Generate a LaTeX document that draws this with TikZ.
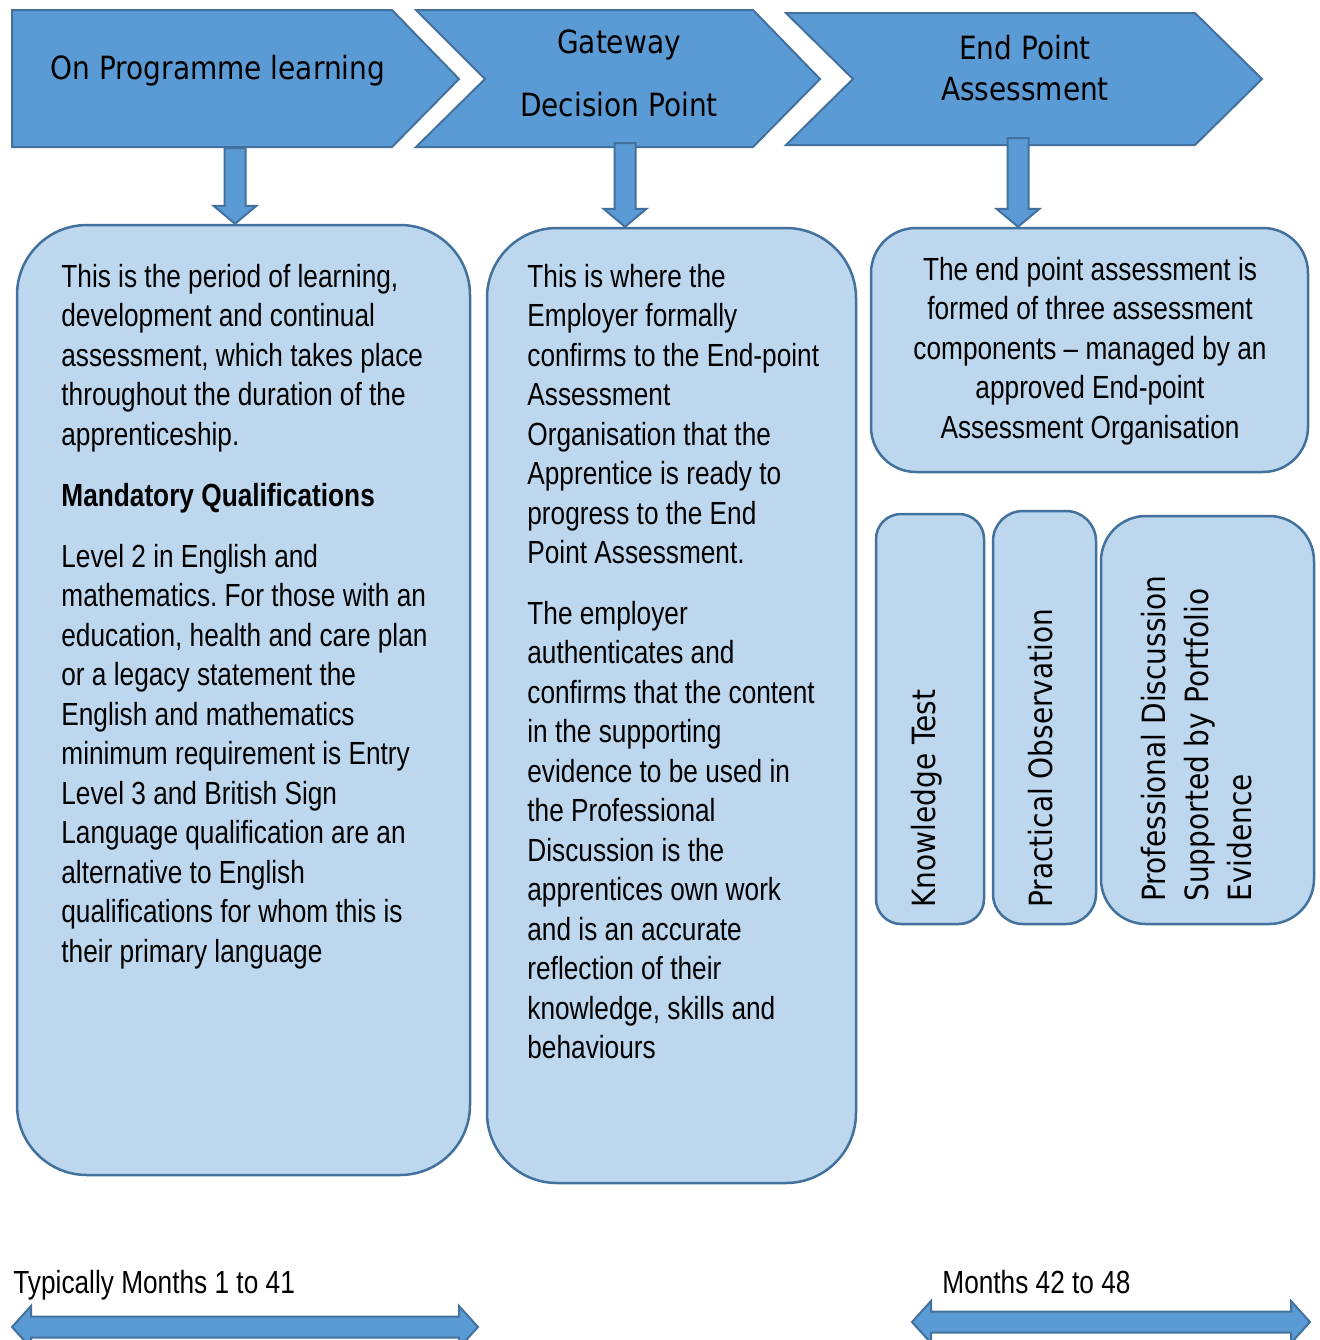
\documentclass[tikz,border=0pt]{standalone}
\usepackage{fontspec}
\setmainfont[FakeStretch=0.82]{Liberation Sans}
\newfontfamily\headfont[FakeStretch=0.875]{DejaVu Sans}
\usepackage{tikz}
\usetikzlibrary{calc}
\frenchspacing
\definecolor{stage-fill}{HTML}{5B9BD5}
\definecolor{stage-edge}{HTML}{41719C}
\definecolor{box-fill}{HTML}{BDD7EE}
\newcommand{\bodysize}{\fontsize{16}{19.75}\selectfont}
\newcommand{\headsize}{\headfont\fontsize{16}{21}\selectfont}
\newcommand{\firstline}{\rule{0pt}{13pt}}
\tikzset{
    stage/.style = {fill=stage-fill, draw=stage-edge, line width=1pt, line join=miter},
    rounded-box/.style = {draw=stage-edge, fill=box-fill, line width=1.25pt, rectangle, rounded corners=#1},
    body-text/.style = {inner sep=0pt, align=left, anchor=north west, font=\bodysize},
    head-text/.style = {inner sep=0pt, align=center, anchor=north, font=\headsize},
    side-text/.style = {inner sep=0pt, rotate=90, font=\headsize},
    block-down/.style = {stage, to path={let \p1=(\tikztostart), \p2=(\tikztotarget) in
        (\x1-5.25pt,\y1) -- (\x1+5.25pt,\y1) -- (\x1+5.25pt,\y2+9pt) -- (\x1+10.75pt,\y2+9pt)
        -- (\x1,\y2) -- (\x1-10.75pt,\y2+9pt) -- (\x1-5.25pt,\y2+9pt) -- cycle}},
    block-both/.style = {stage, to path={let \p1=(\tikztostart), \p2=(\tikztotarget) in
        (\p1) -- (\x1+9.5pt,\y1+10.5pt) -- (\x1+9.5pt,\y1+5.25pt) -- (\x2-9.5pt,\y1+5.25pt)
        -- (\x2-9.5pt,\y1+10.5pt) -- (\p2) -- (\x2-9.5pt,\y1-10.5pt) -- (\x2-9.5pt,\y1-5.25pt)
        -- (\x1+9.5pt,\y1-5.25pt) -- (\x1+9.5pt,\y1-10.5pt) -- cycle}},
}

\begin{document}
\begin{tikzpicture}[x=0.5pt, y=-0.5pt]
\useasboundingbox (0,0) rectangle (1319,1340);

\draw[stage] (12,10) -- (392,10) -- (459,79) -- (392,147) -- (12,147) -- cycle;
\draw[stage] (416,10) -- (753,10) -- (820,79) -- (753,147) -- (416,147) -- (485,79) -- cycle;
\draw[stage] (786,13) -- (1195,13) -- (1262,79) -- (1195,145) -- (786,145) -- (853,79) -- cycle;

\node[head-text] (stage-learning) at (218,53) {\firstline On Programme learning};
\node[head-text] (stage-gateway) at (619,27) {\firstline Gateway\\[10.5pt]Decision Point};
\node[head-text, font=\headfont\fontsize{16}{20.5}\selectfont] (stage-epa) at (1025,33) {\firstline End Point\\Assessment};

\node[rounded-box=35pt, minimum width=226.5pt, minimum height=475pt] (box-learning) at (243.5,700) {};
\node[rounded-box=35pt, minimum width=184.5pt, minimum height=477.5pt] (box-gateway) at (671.5,705.5) {};
\node[rounded-box=22.5pt, minimum width=218.5pt, minimum height=122pt] (box-epa) at (1089.5,350) {};
\node[rounded-box=12.5pt, minimum width=54pt, minimum height=205pt] (box-knowledge) at (930,719) {};
\node[rounded-box=15pt, minimum width=51.5pt, minimum height=206.5pt] (box-practical) at (1044.5,717.5) {};
\node[rounded-box=22.5pt, minimum width=106.5pt, minimum height=204pt] (box-discussion) at (1207.5,720) {};

\coordinate (drop-1) at (235,148);
\coordinate (drop-2) at (625,143);
\coordinate (drop-3) at (1018,138);
\path[block-down] (drop-1) to (drop-1 |- box-learning.north);
\path[block-down] (drop-2) to (drop-2 |- box-gateway.north);
\path[block-down] (drop-3) to (drop-3 |- box-epa.north);

\node[body-text] (text-learning) at (61,261) {\firstline This is the period of learning,\\
development and continual\\
assessment, which takes place\\
throughout the duration of the\\
apprenticeship.\\[11pt]
\textbf{Mandatory Qualifications}\\[10.5pt]
Level 2 in English and\\
mathematics. For those with an\\
education, health and care plan\\
or a legacy statement the\\
English and mathematics\\
minimum requirement is Entry\\
Level 3 and British Sign\\
Language qualification are an\\
alternative to English\\
qualifications for whom this is\\
their primary language};

\node[body-text] (text-gateway) at (527,261) {\firstline This is where the\\
Employer formally\\
confirms to the End-point\\
Assessment\\
Organisation that the\\
Apprentice is ready to\\
progress to the End\\
Point Assessment.\\[10.5pt]
The employer\\
authenticates and\\
confirms that the content\\
in the supporting\\
evidence to be used in\\
the Professional\\
Discussion is the\\
apprentices own work\\
and is an accurate\\
reflection of their\\
knowledge, skills and\\
behaviours};

\node[body-text, align=center, anchor=north] (text-epa) at (1090,254) {\firstline The end point assessment is\\
formed of three assessment\\
components – managed by an\\
approved End-point\\
Assessment Organisation};

\node[side-text, anchor=base west] (text-knowledge) at (935,908) {Knowledge Test};
\node[side-text, anchor=base west] (text-practical) at (1052,908) {Practical Observation};
\node[side-text, anchor=north west, align=left, font=\headfont\fontsize{16}{21.5}\selectfont] (text-discussion) at (1139,902) {\firstline Professional Discussion\\Supported by Portfolio\\Evidence};

\node[inner sep=0pt, anchor=base west, font=\bodysize] (span-learning) at (13,1293) {Typically Months 1 to 41};
\node[inner sep=0pt, anchor=base west, font=\bodysize] (span-epa) at (942,1293) {Months 42 to 48};
\coordinate (span-1-start) at (12,1327);
\coordinate (span-1-end) at (478,1327);
\coordinate (span-2-start) at (912,1322);
\coordinate (span-2-end) at (1310,1322);
\path[block-both] (span-1-start) to (span-1-end);
\path[block-both] (span-2-start) to (span-2-end);
\end{tikzpicture}
\end{document}
